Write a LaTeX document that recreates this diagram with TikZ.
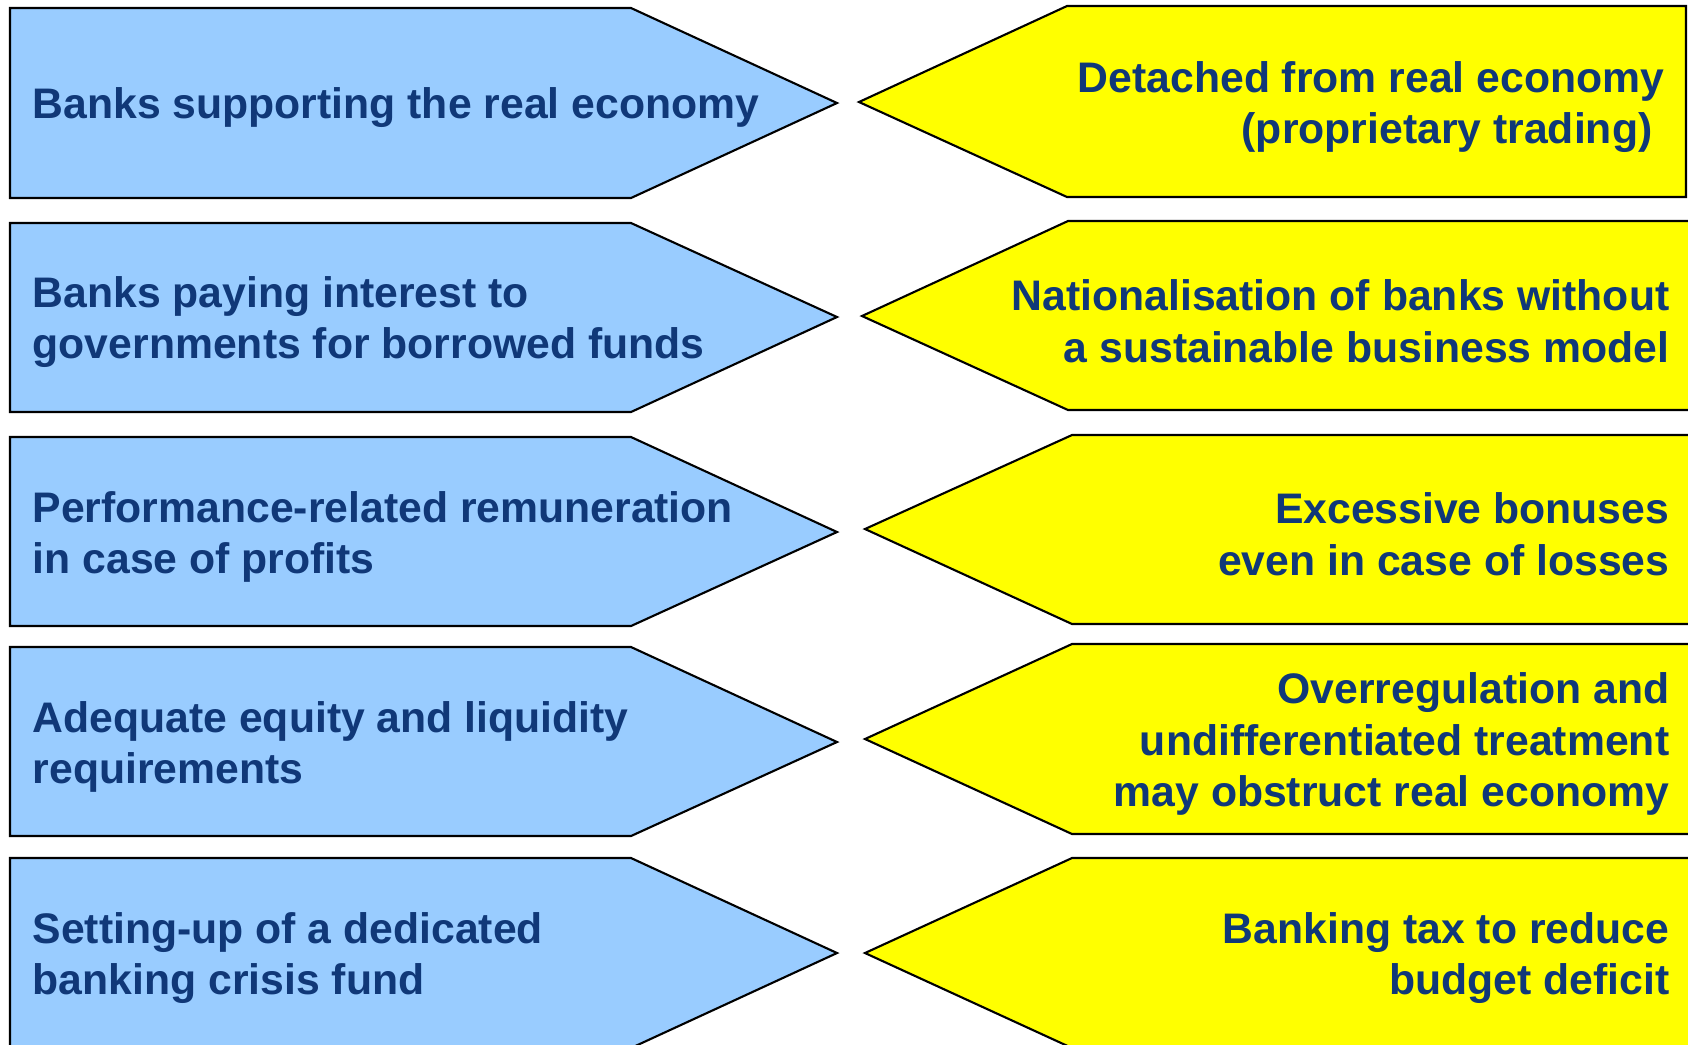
\documentclass[tikz,border=0pt]{standalone}
\usepackage{fontspec}
\setmainfont{Liberation Sans}
\definecolor{textnavy}{RGB}{16,56,120}
\definecolor{problue}{RGB}{153,204,255}
\definecolor{conyellow}{RGB}{255,255,0}
\tikzset{
	arrowbox/.style = {draw=black, line width=0.6pt, line join=miter},
	pro/.style = {arrowbox, fill=problue},
	con/.style = {arrowbox, fill=conyellow},
	boxtext/.style = {text=textnavy, font=\fontsize{12.15}{14.7}\selectfont\bfseries, inner sep=0pt, yshift=-0.05cm},
	protext/.style = {boxtext, anchor=west, align=left},
	context/.style = {boxtext, anchor=east, align=right}
}

\begin{document}
\begin{tikzpicture}[x=0.01cm, y=-0.01cm]
		\useasboundingbox (0,0) rectangle (1688,1044);
		%左侧箭头
		\draw [pro] (10,8) -- (631,8) -- (837,103) -- (631,198) -- (10,198) -- cycle;
		\draw [pro] (10,223) -- (631,223) -- (837,317) -- (631,412) -- (10,412) -- cycle;
		\draw [pro] (10,437) -- (631,437) -- (837,532) -- (631,626) -- (10,626) -- cycle;
		\draw [pro] (10,647) -- (631,647) -- (837,742) -- (631,836) -- (10,836) -- cycle;
		\draw [pro] (10,858) -- (631,858) -- (837,953) -- (631,1048) -- (10,1048) -- cycle;

		%右侧箭头
		\draw [con] (1686,6) -- (1067,6) -- (859,102) -- (1067,197) -- (1686,197) -- cycle;
		\draw [con] (1700,221) -- (1068,221) -- (862,316) -- (1068,410) -- (1700,410);
		\draw [con] (1700,435) -- (1072,435) -- (865,529) -- (1072,624) -- (1700,624);
		\draw [con] (1700,644) -- (1072,644) -- (865,739) -- (1072,834) -- (1700,834);
		\draw [con] (1700,858) -- (1072,858) -- (865,953) -- (1072,1048) -- (1700,1048);

		%左侧文字
		\node (realeco) [protext] at (32,103) {Banks supporting the real economy};
		\node (interest) [protext] at (32,317) {Banks paying interest to\\governments for borrowed funds};
		\node (remun) [protext] at (32,532) {Performance-related remuneration\\in case of profits};
		\node (equity) [protext] at (32,742) {Adequate equity and liquidity\\requirements};
		\node (crisisfund) [protext] at (32,953) {Setting-up of a dedicated\\banking crisis fund};

		%右侧文字
		\node (proptrade) [context] at (1665,102) {Detached from real economy\\(proprietary trading)\hspace*{0.278em}};
		\node (national) [context] at (1670,316) {Nationalisation of banks without\\a sustainable business model};
		\node (bonuses) [context] at (1670,529) {Excessive bonuses\\even in case of losses};
		\node (overreg) [context] at (1670,739) {Overregulation and\\undifferentiated treatment\hspace*{0.278em}\\may obstruct real economy};
		\node (bankingtax) [context] at (1670,953) {Banking tax to reduce\\budget deficit};
\end{tikzpicture}
\end{document}
